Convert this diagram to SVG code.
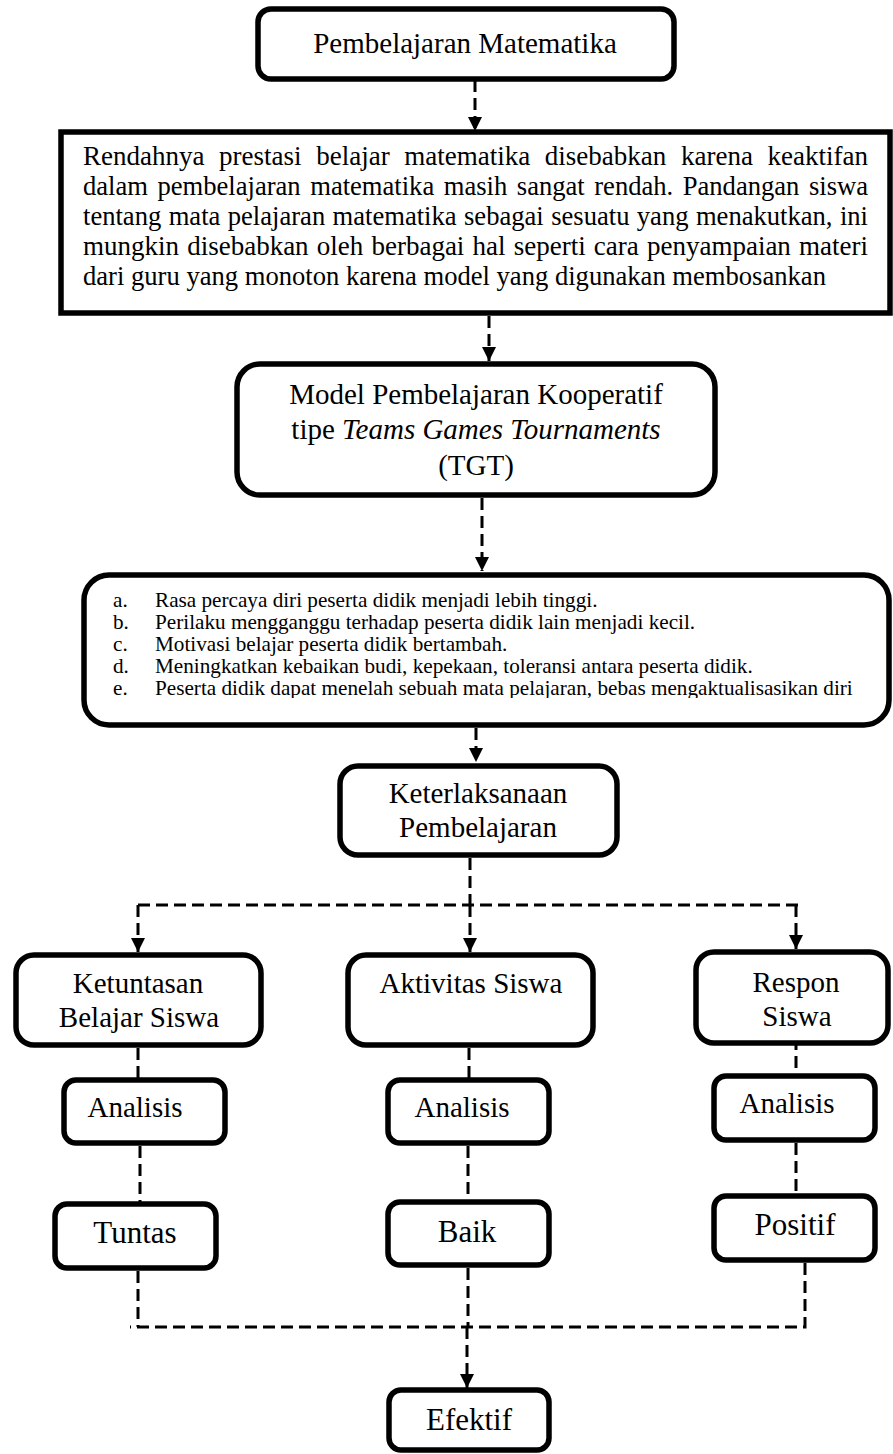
<svg xmlns="http://www.w3.org/2000/svg" width="893" height="1454" viewBox="0 0 893 1454">
<style>
.box{fill:#fff;stroke:#000;stroke-width:5.5}
.t{font-family:"Liberation Serif","Times New Roman",serif;fill:#000}
.m{text-anchor:middle}
.f29{font-size:29px}
.f31{font-size:31px}
.p{font-size:26.6px}
.l{font-size:21.2px}
.c{fill:none;stroke:#000;stroke-width:3;stroke-dasharray:12 6}
</style>
<defs>
<marker id="arr" markerUnits="userSpaceOnUse" markerWidth="14" markerHeight="15" refX="14" refY="7" orient="auto" viewBox="0 0 14 14">
<path d="M0,0 L14,7 L0,14 z" fill="#000"/>
</marker>
<clipPath id="clipE"><rect x="84" y="575" width="805" height="123"/></clipPath>
</defs>
<rect width="893" height="1454" fill="#fff"/>

<g id="connectors">
<path class="c" d="M475,80 V131" marker-end="url(#arr)"/>
<path class="c" d="M489,316 V361" marker-end="url(#arr)"/>
<path class="c" d="M482,498 V571" marker-end="url(#arr)"/>
<path class="c" d="M476,728 V762" marker-end="url(#arr)"/>
<path class="c" d="M470,858 V905 M138,905 H803"/>
<path class="c" d="M138,905 V952" marker-end="url(#arr)"/>
<path class="c" d="M470,905 V952" marker-end="url(#arr)"/>
<path class="c" d="M796,905 V949" marker-end="url(#arr)"/>
<path class="c" d="M138,1048 V1078 M469,1048 V1078 M796,1038 V1074"/>
<path class="c" d="M140,1146 V1202 M468,1146 V1200 M796,1143 V1194"/>
<path class="c" d="M138,1271 V1327 M468,1268 V1327 M805,1263 V1327 H130"/>
<path class="c" d="M467,1327 V1388" marker-end="url(#arr)"/>
</g>

<g id="n-top">
<rect class="box" x="258" y="9" width="416" height="70" rx="13" stroke-width="6"/>
<text class="t m f29" x="465" y="53">Pembelajaran Matematika</text>
</g>

<g id="n-masalah">
<rect class="box" x="61" y="132" width="829" height="181" stroke-width="6"/>
<text class="t p" x="83" y="165" word-spacing="7.7" textLength="785" lengthAdjust="spacingAndGlyphs">Rendahnya prestasi belajar matematika disebabkan karena keaktifan</text>
<text class="t p" x="83" y="195" word-spacing="2.9" textLength="785" lengthAdjust="spacingAndGlyphs">dalam pembelajaran matematika masih sangat rendah. Pandangan siswa</text>
<text class="t p" x="83" y="225" word-spacing="0.75" textLength="785" lengthAdjust="spacingAndGlyphs">tentang mata pelajaran matematika sebagai sesuatu yang menakutkan, ini</text>
<text class="t p" x="83" y="255" word-spacing="1.4" textLength="785" lengthAdjust="spacingAndGlyphs">mungkin disebabkan oleh berbagai hal seperti cara penyampaian materi</text>
<text class="t p" x="83" y="285">dari guru yang monoton karena model yang digunakan membosankan</text>
</g>

<g id="n-model">
<rect class="box" x="237" y="364" width="478" height="131" rx="23"/>
<text class="t m f29" x="476" y="404">Model Pembelajaran Kooperatif</text>
<text class="t m f29" x="476" y="439">tipe <tspan font-style="italic">Teams Games Tournaments</tspan></text>
<text class="t m f29" x="476" y="475">(TGT)</text>
</g>

<g id="n-manfaat">
<rect class="box" x="84" y="575" width="805" height="150" rx="25"/>
<text class="t l" x="113" y="607">a.</text>
<text class="t l" x="155" y="607">Rasa percaya diri peserta didik menjadi lebih tinggi.</text>
<text class="t l" x="113" y="629">b.</text>
<text class="t l" x="155" y="629">Perilaku mengganggu terhadap peserta didik lain menjadi kecil.</text>
<text class="t l" x="113" y="651">c.</text>
<text class="t l" x="155" y="651">Motivasi belajar peserta didik bertambah.</text>
<text class="t l" x="113" y="673">d.</text>
<text class="t l" x="155" y="673">Meningkatkan kebaikan budi, kepekaan, toleransi antara peserta didik.</text>
<g clip-path="url(#clipE)">
<text class="t l" x="113" y="695">e.</text>
<text class="t l" x="155" y="695">Peserta didik dapat menelah sebuah mata pelajaran, bebas mengaktualisasikan diri</text>
</g>
</g>

<g id="n-keterlaksanaan">
<rect class="box" x="340" y="766" width="277" height="89" rx="18"/>
<text class="t m f29" x="478" y="803">Keterlaksanaan</text>
<text class="t m f29" x="478" y="837">Pembelajaran</text>
</g>

<g id="n-ketuntasan">
<rect class="box" x="16" y="955" width="245" height="90" rx="18"/>
<text class="t m f29" x="138" y="993">Ketuntasan</text>
<text class="t m f29" x="139" y="1027">Belajar Siswa</text>
</g>

<g id="n-aktivitas">
<rect class="box" x="348" y="955" width="245" height="90" rx="18"/>
<text class="t m f29" x="471" y="993">Aktivitas Siswa</text>
</g>

<g id="n-respon">
<rect class="box" x="696" y="952" width="192" height="91" rx="18"/>
<text class="t m f29" x="796" y="992">Respon</text>
<text class="t m f29" x="797" y="1026">Siswa</text>
</g>

<g id="n-analisis1">
<rect class="box" x="64" y="1080" width="161" height="63" rx="12"/>
<text class="t m f29" x="135" y="1117">Analisis</text>
</g>
<g id="n-analisis2">
<rect class="box" x="388" y="1080" width="161" height="63" rx="12"/>
<text class="t m f29" x="462" y="1117">Analisis</text>
</g>
<g id="n-analisis3">
<rect class="box" x="714" y="1076" width="161" height="64" rx="12"/>
<text class="t m f29" x="787" y="1113">Analisis</text>
</g>

<g id="n-tuntas">
<rect class="box" x="55" y="1204" width="161" height="64" rx="12"/>
<text class="t m f31" x="135" y="1243">Tuntas</text>
</g>
<g id="n-baik">
<rect class="box" x="388" y="1202" width="161" height="63" rx="12"/>
<text class="t m f31" x="467" y="1242">Baik</text>
</g>
<g id="n-positif">
<rect class="box" x="714" y="1196" width="161" height="64" rx="12"/>
<text class="t m f31" x="795" y="1235">Positif</text>
</g>

<g id="n-efektif">
<rect class="box" x="389" y="1390" width="160" height="60" rx="12"/>
<text class="t m f31" x="469" y="1430">Efektif</text>
</g>
</svg>
